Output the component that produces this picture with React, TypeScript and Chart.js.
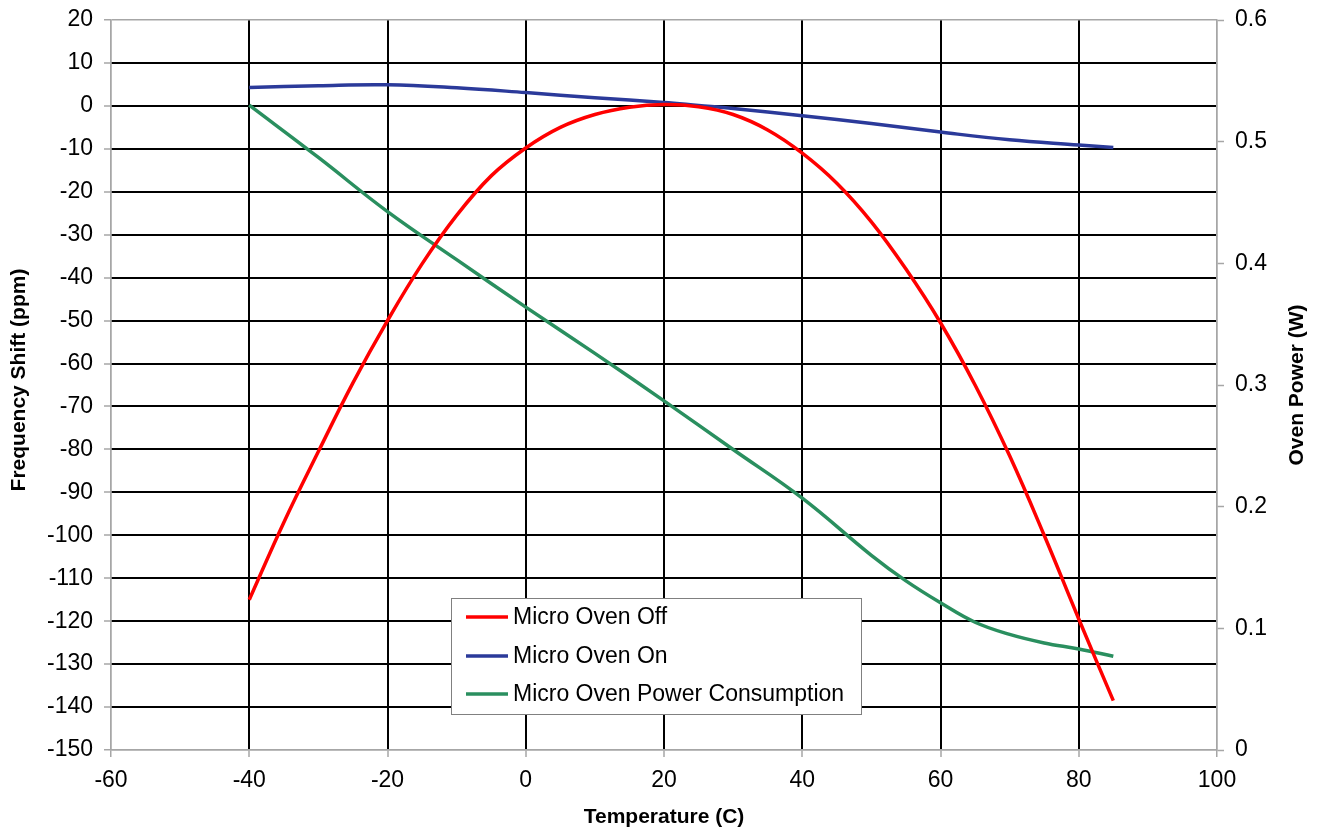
import React, { useEffect, useRef } from "react";
import { Chart, registerables } from "chart.js";

Chart.register(...registerables);

const offTemps = [-40, -35, -30, -25, -20, -15, -10, -5, 0, 5, 10, 15, 20, 25, 30, 35, 40, 45, 50, 55, 60, 65, 70, 75, 80, 85];
const offValues = [-115, -97, -80.5, -64.5, -50, -36.8, -25.5, -16.3, -9.8, -5, -2, -0.3, 0.3, -0.2, -2, -5.6, -11, -18, -27, -38, -50.5, -65, -81.5, -100, -119.5, -138.5];

const onTemps = [-40, -30, -20, -10, 0, 10, 20, 25, 30, 40, 50, 60, 70, 80, 85];
const onValues = [4.3, 4.7, 4.9, 4.2, 3.1, 1.9, 0.8, 0.1, -0.6, -2.3, -4.1, -6.1, -7.9, -9.1, -9.7];

const powerTemps = [-40, -30, -20, -10, 0, 10, 20, 30, 40, 50, 55, 60, 65, 70, 75, 80, 85];
const powerValues = [0.53, 0.487, 0.4425, 0.403, 0.364, 0.326, 0.287, 0.247, 0.207, 0.16, 0.139, 0.121, 0.105, 0.095, 0.088, 0.083, 0.077];

const seriesLabels = ["Micro Oven Off", "Micro Oven On", "Micro Oven Power Consumption"];
const seriesColors = ["#ff0000", "#2b3a9a", "#2a8f5f"];

const xTitle = "Temperature (C)";
const yTitle = "Frequency Shift (ppm)";
const y1Title = "Oven Power (W)";

const FONT = "'Liberation Sans', Arial, Helvetica, sans-serif";
const GRAY = "#a6a6a6";

export default function App() {
  const ref = useRef<HTMLCanvasElement | null>(null);

  useEffect(() => {
    const canvas = ref.current;
    if (!canvas) return;

    const overlay = {
      id: "overlay",
      afterDraw(chart: any) {
        const ctx = chart.ctx;
        const area = chart.chartArea;
        ctx.save();
        ctx.fillStyle = "#000";
        ctx.font = `bold 21px ${FONT}`;
        ctx.textAlign = "center";
        ctx.textBaseline = "middle";
        ctx.fillText(xTitle, (area.left + area.right) / 2, 817);
        ctx.save();
        ctx.translate(19, 380);
        ctx.rotate(-Math.PI / 2);
        ctx.fillText(yTitle, 0, 0);
        ctx.restore();
        ctx.save();
        ctx.translate(1297, 385);
        ctx.rotate(-Math.PI / 2);
        ctx.fillText(y1Title, 0, 0);
        ctx.restore();

        const bx = 451, by = 598, bw = 410, bh = 116;
        ctx.fillStyle = "#ffffff";
        ctx.fillRect(bx, by, bw, bh);
        ctx.strokeStyle = "#808080";
        ctx.lineWidth = 1;
        ctx.strokeRect(bx + 0.5, by + 0.5, bw, bh);
        const rows = [617, 656, 694];
        ctx.font = `23px ${FONT}`;
        ctx.textAlign = "left";
        chart.data.datasets.forEach((ds: any, i: number) => {
          const y = rows[i];
          ctx.strokeStyle = ds.borderColor;
          ctx.lineWidth = 3.5;
          ctx.beginPath();
          ctx.moveTo(466, y);
          ctx.lineTo(508, y);
          ctx.stroke();
          ctx.fillStyle = "#000";
          ctx.fillText(ds.label, 513, y + 1);
        });
        ctx.restore();
      },
    };

    const toPts = (xs: number[], ys: number[]) => xs.map((x, i) => ({ x, y: ys[i] }));
    const mk = (i: number, xs: number[], ys: number[], axis: string) => ({
      label: seriesLabels[i],
      data: toPts(xs, ys),
      borderColor: seriesColors[i],
      backgroundColor: seriesColors[i],
      borderWidth: 3.5,
      pointRadius: 0,
      tension: 0.4,
      yAxisID: axis,
    });

    const chart = new Chart(canvas, {
      type: "line",
      data: {
        datasets: [
          mk(0, offTemps, offValues, "y"),
          mk(1, onTemps, onValues, "y"),
          mk(2, powerTemps, powerValues, "y1"),
        ],
      },
      options: {
        responsive: false,
        animation: false,
        devicePixelRatio: 1,
        layout: { padding: { top: 20, left: 0, right: 0, bottom: 0 } },
        plugins: {
          legend: { display: false },
          tooltip: { enabled: false },
        },
        scales: {
          x: {
            type: "linear",
            min: -60,
            max: 100,
            ticks: { stepSize: 20, color: "#000", font: { family: FONT, size: 23 }, padding: 10, maxRotation: 0 },
            grid: {
              color: (c: any) => (c.tick && (c.tick.value === -60 || c.tick.value === 100) ? GRAY : "#000"),
              lineWidth: (c: any) => (c.tick && (c.tick.value === -60 || c.tick.value === 100) ? 1.5 : 2),
              tickColor: GRAY,
              tickLength: 7,
              tickWidth: 1.5,
            },
            border: { color: GRAY, width: 1.5 },
            afterFit: (s: any) => {
              s.height = 79;
              s.paddingLeft = 0;
              s.paddingRight = 0;
            },
          },
          y: {
            type: "linear",
            position: "left",
            min: -150,
            max: 20,
            ticks: { stepSize: 10, color: "#000", font: { family: FONT, size: 23 }, padding: 11 },
            grid: {
              color: (c: any) => (c.tick && (c.tick.value === 20 || c.tick.value === -150) ? GRAY : "#000"),
              lineWidth: (c: any) => (c.tick && (c.tick.value === 20 || c.tick.value === -150) ? 1.5 : 2),
              tickColor: GRAY,
              tickLength: 7,
              tickWidth: 1.5,
            },
            border: { color: GRAY, width: 1.5 },
            afterFit: (s: any) => {
              s.width = 111;
              s.paddingTop = 0;
              s.paddingBottom = 0;
            },
          },
          y1: {
            type: "linear",
            position: "right",
            min: 0,
            max: 0.6,
            ticks: {
              stepSize: 0.1,
              color: "#000",
              font: { family: FONT, size: 23 },
              padding: 11,
              callback: (v: any) => (Math.abs(v) < 1e-9 ? "0" : Number(v).toFixed(1)),
            },
            grid: {
              drawOnChartArea: false,
              tickColor: GRAY,
              tickLength: 7,
              tickWidth: 1.5,
            },
            border: { color: GRAY, width: 1.5 },
            afterFit: (s: any) => {
              s.width = 100;
              s.paddingTop = 0;
              s.paddingBottom = 0;
            },
          },
        },
      },
      plugins: [overlay],
    } as any);

    return () => chart.destroy();
  }, []);

  return (
    <div style={{ position: "fixed", left: 0, top: 0, width: 1317, height: 829, background: "#fff" }}>
      <canvas ref={ref} width={1317} height={829} style={{ display: "block" }} />
    </div>
  );
}
